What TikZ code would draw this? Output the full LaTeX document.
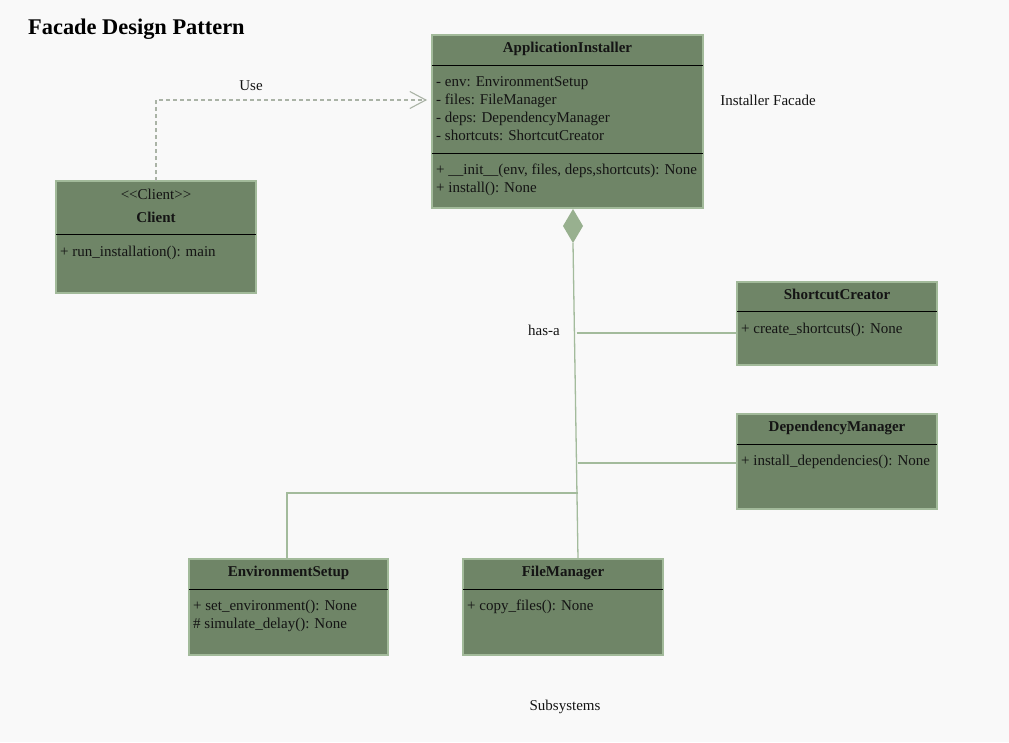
\documentclass[tikz,border=0pt]{standalone}
\usepackage{fontspec}
\setmainfont{Liberation Serif}
\usetikzlibrary{arrows.meta}
\definecolor{bgc}{HTML}{F9F9F9}
\definecolor{boxfill}{HTML}{6F8567}
\definecolor{boxline}{HTML}{A2BA9A}
\definecolor{conn}{HTML}{A3BB9C}
\definecolor{dashc}{HTML}{AAB3A6}
\definecolor{diafill}{HTML}{98B08F}
\definecolor{txt}{HTML}{141414}
\tikzset{
  umlbox/.style={draw=boxline, fill=boxfill, line width=1.3pt, inner sep=0pt, outer sep=0pt, anchor=north west},
  sepline/.style={draw=black, line width=1pt},
  lbl/.style={inner sep=0pt, text=txt, font=\fontsize{15}{18}\selectfont},
  ttl/.style={lbl, font=\fontsize{15}{18}\selectfont\bfseries, anchor=base},
  mem/.style={lbl, anchor=base west},
  conline/.style={draw=conn, line width=1.3pt},
}
\begin{document}
\begin{tikzpicture}[x=1pt,y=-1pt]
\fill[bgc] (0,0) rectangle (1009,742);
\useasboundingbox (0,0) rectangle (1009,742);

\node[lbl, anchor=base west, font=\fontsize{22.4}{26}\selectfont\bfseries, text=black] (title) at (28,34.5) {Facade Design Pattern};

% ApplicationInstaller
\node[umlbox, minimum width=271pt, minimum height=173pt] (AI) at (432,35) {};
\draw[sepline] (432,65) -- (703,65);
\draw[sepline] (432,153) -- (703,153);
\node[ttl] (AIt) at (567.5,52) {ApplicationInstaller};
\node[mem] (AIa1) at (436,86) {- env: EnvironmentSetup};
\node[mem] (AIa2) at (436,104) {- files: FileManager};
\node[mem] (AIa3) at (436,122) {- deps: DependencyManager};
\node[mem] (AIa4) at (436,140) {- shortcuts: ShortcutCreator};
\node[mem] (AIm1) at (436,174) {+ \_\_init\_\_(env, files, deps,shortcuts): None};
\node[mem] (AIm2) at (436,192) {+ install(): None};

% Client
\node[umlbox, minimum width=200pt, minimum height=112pt] (CL) at (56,181) {};
\draw[sepline] (56,234) -- (256,234);
\node[lbl, anchor=base] (CLs) at (156,199) {<{}<Client>{}>};
\node[ttl] (CLt) at (156,222) {Client};
\node[mem] (CLm1) at (60,256) {+ run\_installation(): main};

% ShortcutCreator
\node[umlbox, minimum width=200pt, minimum height=83pt] (SC) at (737,282) {};
\draw[sepline] (737,311) -- (937,311);
\node[ttl] (SCt) at (837,299) {ShortcutCreator};
\node[mem] (SCm1) at (741,333) {+ create\_shortcuts(): None};

% DependencyManager
\node[umlbox, minimum width=200pt, minimum height=95pt] (DM) at (737,414) {};
\draw[sepline] (737,444) -- (937,444);
\node[ttl] (DMt) at (837,431) {DependencyManager};
\node[mem] (DMm1) at (741,465) {+ install\_dependencies(): None};

% EnvironmentSetup
\node[umlbox, minimum width=199pt, minimum height=96pt] (ES) at (189,559) {};
\draw[sepline] (189,589) -- (388,589);
\node[ttl] (ESt) at (288.5,576) {EnvironmentSetup};
\node[mem] (ESm1) at (193,610) {+ set\_environment(): None};
\node[mem] (ESm2) at (193,628) {\# simulate\_delay(): None};

% FileManager
\node[umlbox, minimum width=200pt, minimum height=96pt] (FM) at (463,559) {};
\draw[sepline] (463,589) -- (663,589);
\node[ttl] (FMt) at (563,576) {FileManager};
\node[mem] (FMm1) at (467,610) {+ copy\_files(): None};

% free labels
\node[lbl, anchor=base] (use) at (251,90) {Use};
\node[lbl, anchor=base] (facade) at (768,105) {Installer Facade};
\node[lbl, anchor=base] (hasa) at (544,335) {has-a};
\node[lbl, anchor=base] (subs) at (565,710) {Subsystems};

% dependency Client -> ApplicationInstaller
\coordinate (bendU) at (156,100);
\coordinate (aiIn) at (432,100);
\draw[draw=dashc, line width=1.1pt, dash pattern=on 4pt off 3pt, -{Straight Barb[length=16pt,width=17pt,line width=1.1pt]}, shorten >=5pt]
  (CL.north) -- (bendU) -- (aiIn);

% composition diamond
\coordinate (dtop) at (573,209);
\coordinate (dbot) at (573,243);
\fill[diafill] (dtop) -- (583,226) -- (dbot) -- (563,226) -- cycle;
\coordinate (fmIn) at (578,559);
\draw[conline] (dbot) -- (fmIn);
\coordinate (j1) at (576.5,333);
\coordinate (j2) at (577.5,463);
\coordinate (j3) at (578,493);
\coordinate (esTop) at (287,559);
\draw[conline] (j1) -- (j1 -| SC.west);
\draw[conline] (j2) -- (j2 -| DM.west);
\draw[conline] (j3) -- (esTop |- j3) -- (esTop);
\end{tikzpicture}
\end{document}
